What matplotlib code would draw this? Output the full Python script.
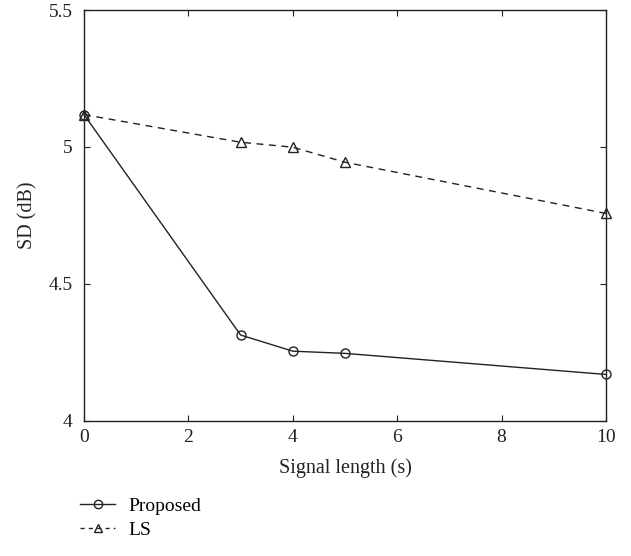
import matplotlib
matplotlib.use("Agg")
import matplotlib.pyplot as plt
from matplotlib.lines import Line2D

x_vals = [0, 3, 4, 5, 10]
proposed = [5.118, 4.313, 4.254, 4.246, 4.169]
ls_vals = [5.118, 5.017, 4.999, 4.944, 4.757]
xticks = [0, 2, 4, 6, 8, 10]
yticks = [4, 4.5, 5, 5.5]
ytick_labels = ["4", "4.5", "5", "5.5"]

plt.rcParams['font.family'] = ['Liberation Serif', 'DejaVu Serif']
plt.rcParams['font.size'] = 13

fig = plt.figure(figsize=(6.31, 5.56), dpi=100)
ax = fig.add_axes([0.1331, 0.2433, 0.8273, 0.7387])

c = '#222222'
ax.plot(x_vals, proposed, '-', color=c, lw=1.0, marker='o', ms=6.5,
        mfc='none', mec=c, mew=1.0, clip_on=False, zorder=3)
ax.plot(x_vals, ls_vals, '--', color=c, lw=1.0, marker='^', ms=7,
        mfc='none', mec=c, mew=1.0, clip_on=False, zorder=3, dashes=(5, 4))

ax.set_xlim(0, 10)
ax.set_ylim(4, 5.5)
ax.set_xticks(xticks)
ax.set_yticks(yticks)
ax.set_yticklabels(ytick_labels)
ax.tick_params(axis='both', direction='in', length=4, width=0.8, top=True, right=True,
               labelsize=14, colors=c)
ax.tick_params(axis='y', pad=8)
ax.tick_params(axis='x', pad=6)
for s in ax.spines.values():
    s.set_linewidth(1.0)
    s.set_color(c)

ax.set_xlabel("Signal length (s)", fontsize=14.5, color=c, labelpad=9)
ax.set_ylabel("SD (dB)", fontsize=14.5, color=c, labelpad=8)

handles = [
    Line2D([], [], color=c, lw=1.0, ls='-', marker='o', ms=6, mfc='none', mec=c),
    Line2D([], [], color=c, lw=1.0, ls='--', marker='^', ms=6, mfc='none', mec=c, dashes=(3, 3)),
]
fig.legend(handles, ["Proposed", "LS"], loc='upper left',
           bbox_to_anchor=(0.127, 0.105), frameon=False, fontsize=14,
           handlelength=1.8, handletextpad=0.7, labelspacing=0.3,
           borderaxespad=0, borderpad=0)

fig.savefig("out.png", dpi=100)
